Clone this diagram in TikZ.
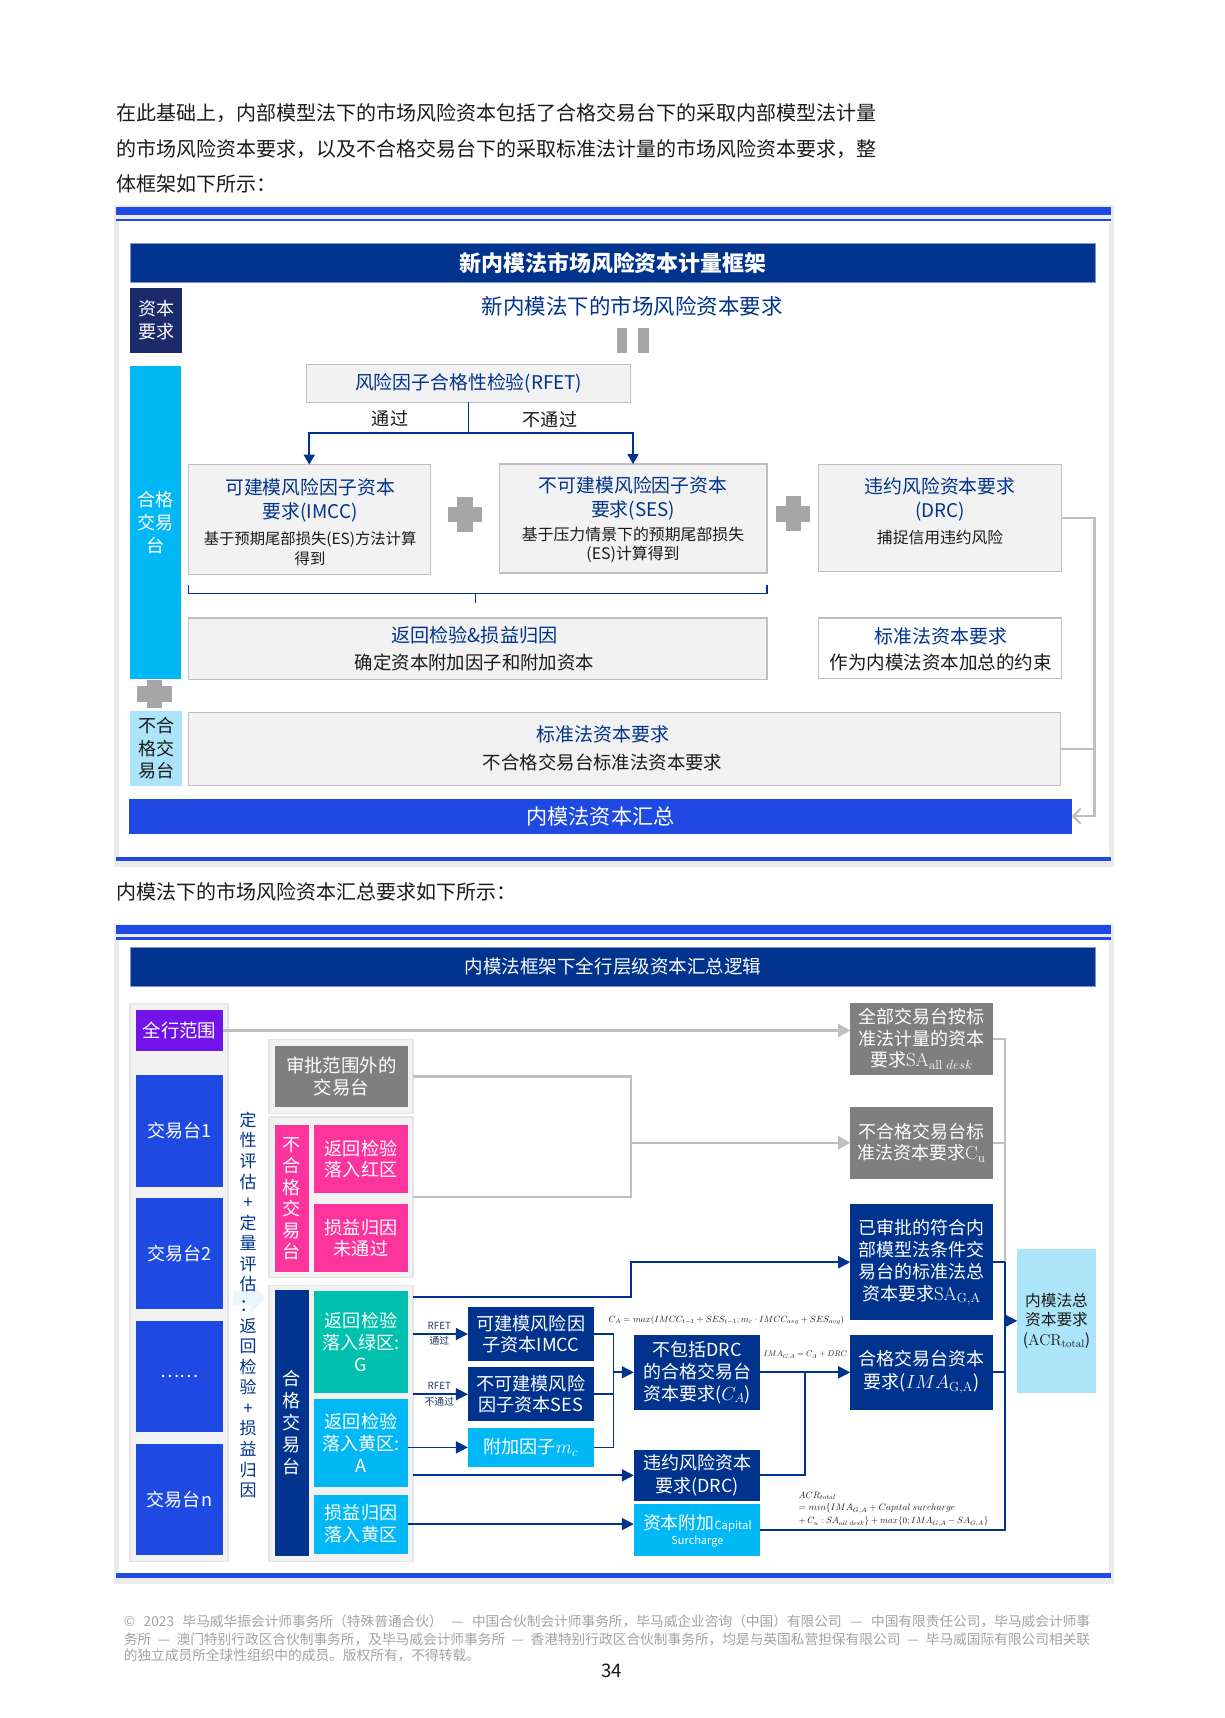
\documentclass[tikz,border=0pt]{standalone}
\usepackage[no-math]{fontspec}
\setmainfont{Noto Sans CJK SC}
\usepackage{graphicx}
\usetikzlibrary{arrows.meta,calc}

\definecolor{navy}{HTML}{00338D}
\definecolor{navtitle}{HTML}{7F95D1}
\definecolor{royal}{HTML}{1E49E2}
\definecolor{cyanK}{HTML}{00B8F5}
\definecolor{lcyan}{HTML}{ACE4F9}
\definecolor{purp}{HTML}{7213EA}
\definecolor{pinkK}{HTML}{FD349C}
\definecolor{greenK}{HTML}{00C0AE}
\definecolor{grayK}{HTML}{7F7F7F}
\definecolor{panelf}{HTML}{F2F2F2}
\definecolor{panelb}{HTML}{E4E4E4}
\definecolor{boxg}{HTML}{F2F2F2}
\definecolor{lineg}{HTML}{BFBFBF}
\definecolor{plusg}{HTML}{A6A6A6}
\definecolor{darknavy}{HTML}{1B2A6B}
\definecolor{txt}{HTML}{1A1A1A}
\definecolor{foot}{HTML}{A3A3A3}
\definecolor{shadowg}{HTML}{EBEBEB}
\definecolor{faintb}{HTML}{EAF5FC}
\definecolor{rfetc}{HTML}{1F3864}

\newcommand\fz[2]{\fontsize{#1}{#2}\selectfont}
\newcommand\mybox[7]{%
  \pgfmathsetmacro\myboxcx{(#2+#4)/2}%
  \pgfmathsetmacro\myboxcy{(#3+#5)/2}%
  \pgfmathsetmacro\myboxw{#4-#2}%
  \pgfmathsetmacro\myboxh{#5-#3}%
  \node[#6,minimum width=\myboxw pt,minimum height=\myboxh pt] (#1) at (\myboxcx,\myboxcy) {#7};}
\newcommand\plusmark[4]{%
  \fill[plusg] (#1-#3,#2-7) rectangle (#1+#3,#2+7);
  \fill[plusg] (#1-7,#2-#4) rectangle (#1+7,#2+#4);}

\begin{document}
\begin{tikzpicture}[x=1pt,y=-1pt,
  every node/.style={inner sep=0pt,outer sep=0pt},
  navln/.style={draw=navy,line width=1.6pt},
  navarr/.style={navln,-{Triangle[length=11pt,width=11pt]}},
  navarrsm/.style={draw=navy,line width=1.4pt,-{Triangle[length=9pt,width=10pt]}},
  grayln/.style={draw=lineg,line width=2pt},
  grayarr/.style={grayln,-{Triangle[length=11pt,width=12pt]}},
  grayopen/.style={grayln,-{Straight Barb[length=7pt,width=14pt]}},
  lgbox/.style={fill=boxg,draw=lineg,line width=1pt},
  ttl/.style={fill=navy,draw=navtitle,line width=0.8pt,text=white},
  navtext/.style={text=navy,align=center},
  blktext/.style={text=txt,align=center},
  wbox/.style={text=white,align=center,font=\fz{16.5}{20}},
  panel/.style={fill=panelf,draw=panelb,line width=1.2pt}
]
\useasboundingbox (0,0) rectangle (1118,1568);
\fill[white] (0,0) rectangle (1118,1568);

% ---------------- intro text
\node[anchor=west,font=\fz{18.26}{22},text=txt] (p1) at (106,103) {在此基础上，内部模型法下的市场风险资本包括了合格交易台下的采取内部模型法计量};
\node[anchor=west,font=\fz{18.26}{22},text=txt] (p2) at (106,136) {的市场风险资本要求，以及不合格交易台下的采取标准法计量的市场风险资本要求，整};
\node[anchor=west,font=\fz{18.26}{22},text=txt] (p3) at (106,168) {体框架如下所示：};

% ---------------- figure 1 frame
\fill[shadowg] (104,187) rectangle (1017,791);
\fill[white] (109,201.5) rectangle (1012,782);
\fill[royal] (106,189) rectangle (1014,196.5);
\fill[royal] (106,199.5) rectangle (1014,201.5);
\fill[royal] (106,782) rectangle (1014,785.5);

\mybox{t1}{119}{222}{1000}{258}{ttl,font=\fz{20}{24}\bfseries}{新内模法市场风险资本计量框架}
\mybox{zb}{119}{263}{166}{322}{fill=darknavy,text=white,align=center,font=\fz{16.5}{21}}{资本\\要求}
\node[text=navy,font=\fz{19.6}{24}] (h1) at (577,279.5) {新内模法下的市场风险资本要求};
\fill[plusg] (563,299) rectangle (572,322);
\fill[plusg] (582,299) rectangle (592,322);

\mybox{qb}{118.5}{334}{165.5}{620}{fill=cyanK,text=white,align=center,font=\fz{16.5}{20.7}}{合格\\交易\\台}
\plusmark{141}{633.5}{16}{13}
\mybox{nq}{119}{649}{166}{717}{fill=lcyan,text=txt,align=center,font=\fz{16.5}{20.3}}{不合\\格交\\易台}

\mybox{rfet}{280}{333}{575.5}{367}{lgbox,text=navy,font=\fz{17.2}{20}}{风险因子合格性检验(RFET)}

\mybox{imcc}{172}{424}{392.5}{524}{lgbox}{}
\node[navtext,font=\fz{17.2}{22.4}] (imcct) at (283,456.8) {可建模风险因子资本\\要求(IMCC)};
\node[blktext,font=\fz{14}{17.6}] (imccs) at (283,500.8) {基于预期尾部损失(ES)方法计算\\得到};

\mybox{ses}{455.5}{423.5}{700}{523}{lgbox}{}
\node[navtext,font=\fz{17.2}{22}] (sest) at (577.75,454.5) {不可建模风险因子资本\\要求(SES)};
\node[blktext,font=\fz{14.5}{17}] (sess) at (577.75,497.5) {基于压力情景下的预期尾部损失\\(ES)计算得到};

\mybox{drc}{747}{424}{969}{522}{lgbox}{}
\node[navtext,font=\fz{17.2}{22.4}] (drct) at (858,455.8) {违约风险资本要求\\(DRC)};
\node[blktext,font=\fz{14.4}{17}] (drcs) at (858,491) {捕捉信用违约风险};

\plusmark{424.5}{469.5}{15.5}{16}
\plusmark{724}{469}{15.5}{16}

\coordinate (split) at (427.75,395);
\draw[navy,line width=1.4pt] (rfet.south) -- (split);
\draw[navarrsm] (split) -| (imcc.north);
\draw[navarrsm] (split) -| (ses.north);
\node[text=txt,font=\fz{16.5}{20}] (l1) at (356,381.7) {通过};
\node[text=txt,font=\fz{16.5}{20}] (l2) at (502,383) {不通过};

\draw[navy,line width=1pt] (172,534) -- (172,542) -- (700,542) -- (700,534);
\draw[navy,line width=1pt] (434,542) -- (434,550.6);

\mybox{bt}{172}{564}{700}{620}{lgbox}{}
\node[navtext,font=\fz{17.5}{20}] (btt) at (433,579.5) {返回检验\&损益归因};
\node[blktext,font=\fz{16.8}{20}] (bts) at (433,604.8) {确定资本附加因子和附加资本};

\mybox{sac}{747}{564}{969}{619}{fill=white,draw=lineg,line width=1pt}{}
\node[navtext,font=\fz{17.3}{20}] (sact) at (858.5,581) {标准法资本要求};
\node[blktext,font=\fz{16.9}{20}] (sacs) at (858.5,605) {作为内模法资本加总的约束};

\mybox{nsa}{172}{650}{968}{717}{lgbox}{}
\node[navtext,font=\fz{17.3}{20}] (nsat) at (550,670) {标准法资本要求};
\node[blktext,font=\fz{16.8}{20}] (nsas) at (550,696) {不合格交易台标准法资本要求};

\mybox{sum}{118}{729}{978}{761}{fill=royal,text=white,font=\fz{19.3}{22}}{内模法资本汇总}

\coordinate (gc) at (999,745);
\draw[grayopen] (drc.east) -| (gc) -- (sum.east);
\draw[grayln] (nsa.east) -- (nsa.east -| gc);

% ---------------- middle text
\node[anchor=west,font=\fz{18.26}{22},text=txt] (p4) at (106,814) {内模法下的市场风险资本汇总要求如下所示：};

% ---------------- figure 2 frame
\fill[shadowg] (104,843) rectangle (1017,1446);
\fill[white] (109,857.5) rectangle (1012,1436);
\fill[royal] (106,844) rectangle (1014,852);
\fill[royal] (106,855) rectangle (1014,857.5);
\fill[royal] (106,1436) rectangle (1014,1440);

\mybox{t2}{119}{865}{1000}{900}{ttl,font=\fz{16.9}{20}}{内模法框架下全行层级资本汇总逻辑}

% left column
\mybox{lp}{118.6}{916}{208}{1425}{panel}{}
\mybox{qh}{123.8}{922}{203.8}{959}{fill=purp,text=white,font=\fz{16.8}{20}}{全行范围}
\mybox{d1}{123.8}{981}{203.8}{1083}{fill=royal,text=white,font=\fz{16.5}{20}}{交易台1}
\mybox{d2}{123.8}{1093}{203.8}{1195}{fill=royal,text=white,font=\fz{16.5}{20}}{交易台2}
\mybox{d3}{123.8}{1206}{203.8}{1307}{fill=royal,text=white,font=\fz{16.5}{20}}{……}
\mybox{dn}{123.8}{1318}{203.8}{1419}{fill=royal,text=white,font=\fz{16.5}{20}}{交易台n}

% faint arrow
\fill[faintb] (213,1178) -- (229,1178) -- (229,1171) -- (242,1184.5) -- (229,1198) -- (229,1191) -- (213,1191) -- cycle;
\node[text=navy,align=center,font=\fz{15.5}{18.78}] (vt) at (226.5,1191) {定\\性\\评\\估\\+\\定\\量\\评\\估\\：\\返\\回\\检\\验\\+\\损\\益\\归\\因};

% panels
\mybox{sp}{245.5}{949}{377}{1016}{panel}{}
\mybox{sg}{251}{955}{372}{1010}{fill=grayK,text=white,align=center,font=\fz{16.8}{20}}{审批范围外的\\交易台}

\mybox{np}{245.5}{1019.5}{377}{1166}{panel}{}
\mybox{npv}{251}{1027}{282}{1161}{fill=pinkK,text=white,align=center,font=\fz{16.5}{19.6}}{不\\合\\格\\交\\易\\台}
\mybox{nr}{286.6}{1027}{372.4}{1089}{fill=pinkK,wbox,font=\fz{16.5}{19.5}}{返回检验\\落入红区}
\mybox{nf}{286.6}{1099}{372.4}{1161}{fill=pinkK,wbox,font=\fz{16.5}{19.5}}{损益归因\\未通过}

\mybox{qp}{245.5}{1173}{377}{1425}{panel}{}
\mybox{qpv}{251}{1177}{282}{1420}{fill=navy,text=white,align=center,font=\fz{16.5}{20.2}}{合\\格\\交\\易\\台}
\mybox{qg}{286.6}{1178}{372.4}{1271}{fill=greenK,wbox,font=\fz{16.5}{20}}{返回检验\\落入绿区:\\G}
\mybox{qa}{286.6}{1277}{372.4}{1357}{fill=cyanK,wbox,font=\fz{16.5}{20}}{返回检验\\落入黄区:\\A}
\mybox{qy}{286.6}{1364}{372.4}{1418}{fill=cyanK,wbox,font=\fz{16.5}{20}}{损益归因\\落入黄区}

% middle boxes
\mybox{imcc2}{427}{1193}{542}{1242}{fill=navy,wbox,font=\fz{16.5}{19.5}}{可建模风险因\\子资本IMCC}
\mybox{ses2}{427}{1248}{542}{1297}{fill=navy,wbox,font=\fz{16.5}{19.5}}{不可建模风险\\因子资本SES}
\mybox{mc}{427}{1303}{542}{1339}{fill=cyanK,wbox,font=\fz{16.5}{19.5}}{附加因子$m_c$}

\mybox{ca}{578.5}{1218}{694}{1287}{fill=navy,wbox,font=\fz{16.4}{20}}{不包括DRC\\的合格交易台\\资本要求($C_A$)}
\mybox{drc2}{578.5}{1323}{694}{1370}{fill=navy,wbox,font=\fz{16.4}{21}}{违约风险资本\\要求(DRC)}
\mybox{cs}{578.5}{1372.5}{694}{1420}{fill=cyanK}{}
\node[text=white] (cs1) at (636.5,1390) {\fz{16.3}{20}资本附加\fz{10.3}{12}Capital};
\node[text=white,font=\fz{10}{12}] (cs2) at (636.5,1406.5) {Surcharge};

% right boxes
\mybox{saall}{776}{915.5}{906}{981}{fill=grayK,wbox,font=\fz{16.4}{19.7}}{全部交易台按标\\准法计量的资本\\要求$\mathrm{SA}_{\mathrm{all}\ desk}$}
\mybox{cu}{776}{1010}{906}{1076}{fill=grayK,wbox,font=\fz{16.4}{19.5}}{不合格交易台标\\准法资本要求$\mathrm{C_u}$}
\mybox{saga}{776}{1099}{906}{1205}{fill=navy,wbox,font=\fz{16.4}{20}}{已审批的符合内\\部模型法条件交\\易台的标准法总\\资本要求$\mathrm{SA}_{\mathrm{G,A}}$}
\mybox{ima}{776}{1218}{906}{1287}{fill=navy,wbox,font=\fz{16.4}{21}}{合格交易台资本\\要求($IMA_{\mathrm{G,A}}$)}
\mybox{acr}{928.5}{1140}{1000}{1271}{fill=lcyan,text=txt,align=center,font=\fz{14.3}{17.5}}{内模法总\\资本要求\\($\mathrm{ACR}_{\mathrm{total}}$)}

% gray connectors
\coordinate (gb) at (576,1043);
\coordinate (rx) at (917.5,1205.5);
\draw[grayarr] (qh.east) -- (qh.east -| saall.west);
\draw[grayln] (sp.east) -| (gb);
\draw[grayln] (np.east) -| (gb);
\draw[grayarr] (gb) -- (cu.west);
\draw[grayln] (saall.east) -| (saga.east -| rx);
\draw[grayln] (cu.east) -- (cu.east -| rx);

% navy connectors
\coordinate (qpo) at (377,1184);
\draw[navarr] (qpo) -| (gb |- saga.west) -- (saga.west);
\draw[navarr] (imcc2.west -| qp.east) -- (imcc2.west);
\draw[navarr] (ses2.west -| qp.east) -- (ses2.west);
\draw[navarr] (mc.west -| qa.east) -- (mc.west);
\draw[navarr] (drc2.west -| qp.east) -- (drc2.west);
\draw[navarr] (qy.east) -- (qy.east -| cs.west);
\node[text=rfetc,font=\fz{9}{10}] (rf1) at (401,1210) {RFET};
\node[text=rfetc,font=\fz{9}{10}] (rf1b) at (401,1224) {通过};
\node[text=rfetc,font=\fz{9}{10}] (rf2) at (401,1265) {RFET};
\node[text=rfetc,font=\fz{9}{10}] (rf2b) at (401,1279) {不通过};

\coordinate (mg) at (560,1252.5);
\draw[navln] (imcc2.east) -| (mg);
\draw[navln] (mc.east) -| (mg);
\draw[navln] (ses2.east) -- (ses2.east -| mg);
\draw[navarr] (mg) -- (ca.west);
\draw[navarr] (ca.east) -- (ima.west);
\coordinate (dj) at (735,1252.5);
\draw[navln] (drc2.east) -| (dj);
\draw[navln] (saga.east) -- (saga.east -| rx);
\draw[navln] (ima.east) -- (ima.east -| rx);
\draw[navln] (cs.east) -| (saga.east -| rx);
\draw[navarr] (rx) -- (acr.west);

% formulas
\node[text=txt] (fca) at (663,1205) {\resizebox{215pt}{!}{$C_A = max(IMCC_{t-1}+SES_{t-1};m_c\cdot IMCC_{avg}+SES_{avg})$}};
\node[text=txt] (fima) at (735,1237) {\resizebox{76pt}{!}{$IMA_{G,A} = C_A + DRC$}};
\node[text=txt,anchor=west] (fa1) at (729,1365) {\resizebox{34pt}{!}{$ACR_{total}$}};
\node[text=txt,anchor=west] (fa2) at (729,1377) {\resizebox{143pt}{!}{$=min\{IMA_{G,A}+Capital\ surcharge$}};
\node[text=txt,anchor=west] (fa3) at (729,1389) {\resizebox{173pt}{!}{$+\,C_u:SA_{all\ desk}\}+max\{0;IMA_{G,A}-SA_{G,A}\}$}};

% ---------------- footer
\node[anchor=west,text=foot,font=\fz{12.5}{15}] (f1) at (113,1480) {\XeTeXlinebreaklocale "zh"\XeTeXlinebreakskip=0pt plus 1pt\makebox[882pt][s]{© 2023 毕马威华振会计师事务所（特殊普通合伙） — 中国合伙制会计师事务所，毕马威企业咨询（中国）有限公司 — 中国有限责任公司，毕马威会计师事}};
\node[anchor=west,text=foot,font=\fz{12.5}{15}] (f2) at (113,1496) {\XeTeXlinebreaklocale "zh"\XeTeXlinebreakskip=0pt plus 1pt\makebox[882pt][s]{务所 — 澳门特别行政区合伙制事务所，及毕马威会计师事务所 — 香港特别行政区合伙制事务所，均是与英国私营担保有限公司 — 毕马威国际有限公司相关联}};
\node[anchor=west,text=foot,font=\fz{12.5}{15}] (f3) at (113,1511) {的独立成员所全球性组织中的成员。版权所有，不得转载。};
\node[text=txt,font=\fz{17}{20}] (pg) at (558,1525) {34};
\end{tikzpicture}
\end{document}
